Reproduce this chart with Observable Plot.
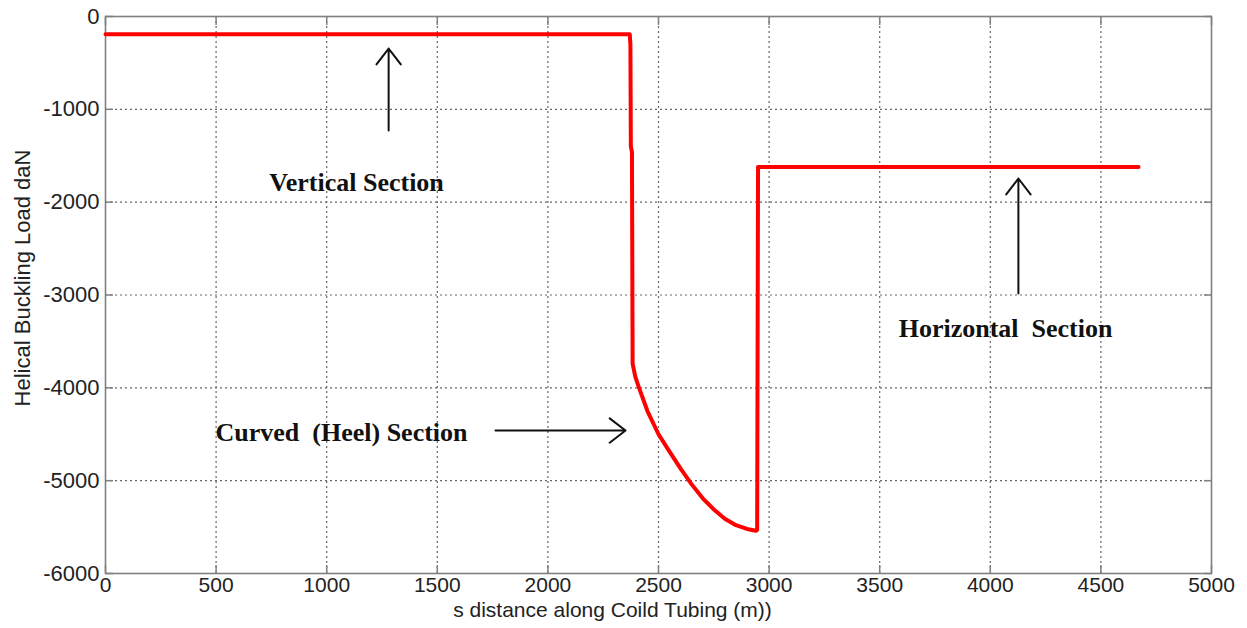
<!DOCTYPE html>
<html>
<head>
<meta charset="utf-8">
<script src="https://cdn.jsdelivr.net/npm/d3@7"></script>
<script src="https://cdn.jsdelivr.net/npm/@observablehq/plot@0.6"></script>
<style>
  html, body { margin: 0; padding: 0; background: #fff; }
</style>
</head>
<body>
<div id="chart"></div>
<script>
// Data
const sDist = [0, 2370, 2373, 2375, 2380, 2383, 2395, 2412, 2450, 2500, 2547, 2600, 2650, 2700, 2750, 2800, 2850, 2900, 2940, 2946, 2950, 4670];
const load  = [-190, -190, -300, -1400, -1460, -3740, -3880, -4000, -4250, -4500, -4677, -4870, -5040, -5190, -5310, -5410, -5480, -5520, -5540, -5530, -1620, -1620];

const xTicks = [0, 500, 1000, 1500, 2000, 2500, 3000, 3500, 4000, 4500, 5000];
const yTicks = [0, -1000, -2000, -3000, -4000, -5000, -6000];

const xLabel = "s distance along Coild Tubing (m))";
const yLabel = "Helical Buckling Load daN";

const annText = ["Vertical Section", "Curved\u00a0 (Heel) Section", "Horizontal\u00a0 Section"];
const annX = [1135, 1067, 4069];
const annY = [-1788, -4481, -3361];

const arrowX1 = [1280, 4127, 1763];
const arrowY1 = [-1228, -2984, -4460];
const arrowX2 = [1280, 4127, 2351];
const arrowY2 = [-345, -1745, -4460];

const series = sDist.map((s, i) => ({s, v: load[i]}));
const notes = annText.map((t, i) => ({t, x: annX[i], y: annY[i]}));
const arrows = arrowX1.map((x1, i) => ({x1, y1: arrowY1[i], x2: arrowX2[i], y2: arrowY2[i]}));

const innerX = xTicks.slice(1, -1);
const innerY = yTicks.slice(1, -1);
const fmt = d => String(d);

const chart = Plot.plot({
  width: 1247,
  height: 628,
  marginLeft: 105,
  marginRight: 36,
  marginTop: 16,
  marginBottom: 55,
  style: {fontFamily: "'Liberation Sans', Arial, sans-serif", fontSize: "21px", color: "#222", background: "#fff"},
  x: {domain: [0, 5000]},
  y: {domain: [-6000, 0]},
  marks: [
    Plot.gridX(innerX, {stroke: "#555", strokeOpacity: 0.9, strokeDasharray: "2,3", strokeWidth: 1.2}),
    Plot.gridY(innerY, {stroke: "#555", strokeOpacity: 0.9, strokeDasharray: "2,3", strokeWidth: 1.2}),
    Plot.frame({stroke: "#808080", strokeWidth: 1.6}),
    Plot.axisX(xTicks, {anchor: "bottom", tickSize: -8, tickPadding: 12, tickFormat: fmt, label: null, stroke: "#808080", strokeWidth: 1.5, fill: "#222", fontSize: 21}),
    Plot.axisX(xTicks, {anchor: "top", tickSize: -8, tickFormat: () => "", label: null, stroke: "#808080", strokeWidth: 1.5}),
    Plot.axisY(yTicks, {anchor: "left", tickSize: -8, tickPadding: 14, tickFormat: fmt, label: null, stroke: "#808080", strokeWidth: 1.5, fill: "#222", fontSize: 22}),
    Plot.axisY(yTicks, {anchor: "right", tickSize: -8, tickFormat: () => "", label: null, stroke: "#808080", strokeWidth: 1.5}),
    Plot.line(series, {x: "s", y: "v", stroke: "#ff0000", strokeWidth: 4, curve: "linear"}),
    Plot.arrow(arrows, {x1: "x1", y1: "y1", x2: "x2", y2: "y2", stroke: "#111", strokeWidth: 2, headLength: 15, headAngle: 75}),
    Plot.text(notes, {x: "x", y: "y", text: "t", fontFamily: "'Liberation Serif', 'Times New Roman', serif", fontWeight: "bold", fontSize: 26, fill: "#111", letterSpacing: "1.2px"}),
    Plot.text([xLabel], {frameAnchor: "bottom", dy: 43, dx: -46, textAnchor: "middle", fontSize: 21, fill: "#222", letterSpacing: "3.5px"}),
    Plot.text([yLabel], {frameAnchor: "left", textAnchor: "middle", rotate: -90, dx: -83, dy: -17, fontSize: 22, fill: "#222", letterSpacing: "2.2px"})
  ]
});

document.getElementById("chart").appendChild(chart);
</script>
</body>
</html>
